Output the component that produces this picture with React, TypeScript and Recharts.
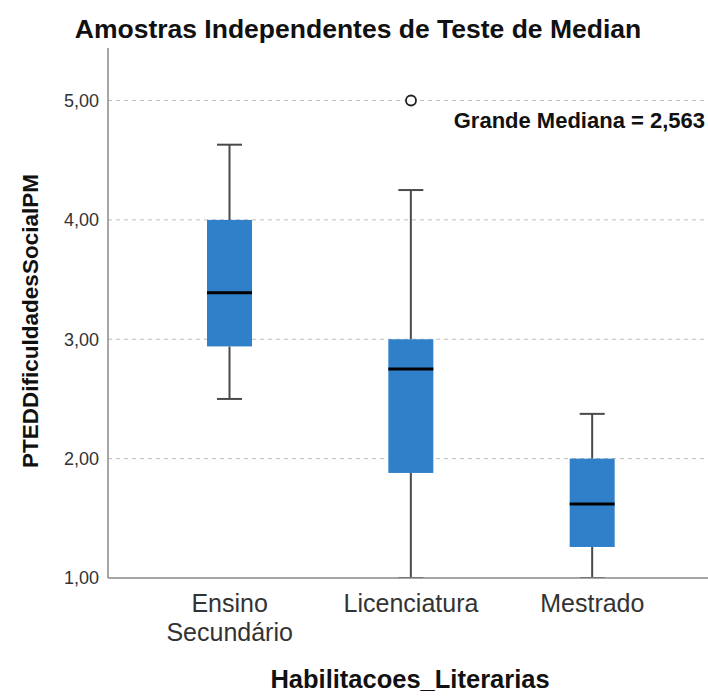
import React from 'react';
import { ComposedChart, Bar, Line, XAxis, YAxis, CartesianGrid } from 'recharts';

const categories = ['Ensino\nSecundário', 'Licenciatura', 'Mestrado'];
const mins = [2.5, 1.0, 1.0];
const q1s = [2.94, 1.88, 1.26];
const medians = [3.39, 2.75, 1.62];
const q3s = [4.0, 3.0, 2.0];
const maxs = [4.63, 4.25, 2.375];
const outliers: (number | null)[] = [null, 5.0, null];
const yTicks = [1, 2, 3, 4, 5];

const chartData = categories.map((name, i) => ({
  name,
  range: [mins[i], maxs[i]],
  min: mins[i],
  q1: q1s[i],
  median: medians[i],
  q3: q3s[i],
  max: maxs[i],
  outlier: outliers[i],
}));

const FONT = '"Liberation Sans", Arial, sans-serif';
const BOX = '#2f80c9';

const BoxShape = (props: any) => {
  const { x, y, width, height, payload } = props;
  if (x == null || y == null || !payload) return <g />;
  const top = Math.min(y, y + height);
  const h = Math.abs(height);
  const { min, max, q1, q3, median } = payload;
  const py = (v: number) => top + ((max - v) / (max - min)) * h;
  const cx = x + width / 2;
  const cap = 25;
  return (
    <g>
      <line x1={cx} x2={cx} y1={py(max)} y2={py(q3)} stroke="#4a4a4a" strokeWidth={2} />
      <line x1={cx} x2={cx} y1={py(q1)} y2={py(min)} stroke="#4a4a4a" strokeWidth={2} />
      <line x1={cx - cap / 2} x2={cx + cap / 2} y1={py(max)} y2={py(max)} stroke="#4a4a4a" strokeWidth={2} />
      <line x1={cx - cap / 2} x2={cx + cap / 2} y1={py(min)} y2={py(min)} stroke="#4a4a4a" strokeWidth={2} />
      <rect x={x} y={py(q3)} width={width} height={py(q1) - py(q3)} fill={BOX} />
      <line x1={x} x2={x + width} y1={py(median)} y2={py(median)} stroke="#000" strokeWidth={3} />
    </g>
  );
};

const OutlierDot = (props: any) => {
  const { cx, cy, payload } = props;
  if (!payload || payload.outlier == null || cx == null || cy == null || isNaN(cy)) return <g key={props.index} />;
  return <circle key={props.index} cx={cx} cy={cy} r={5} fill="#fff" stroke="#222" strokeWidth={1.8} />;
};

const XTick = (props: any) => {
  const { x, y, payload } = props;
  const lines = String(payload.value).split('\n');
  return (
    <text x={x} y={y} textAnchor="middle" fontSize={25} fill="#333" fontFamily={FONT}>
      {lines.map((l, i) => (
        <tspan key={i} x={x} y={y + 34 + i * 29}>{l}</tspan>
      ))}
    </text>
  );
};

export default function App() {
  return (
    <div style={{ position: 'absolute', left: 0, top: 0, width: 708, height: 697, background: '#fff', overflow: 'hidden' }}>
      <ComposedChart
        width={708}
        height={697}
        data={chartData}
        margin={{ top: 48, right: 0, left: 0, bottom: 0 }}
        style={{ fontFamily: FONT }}
      >
        <CartesianGrid horizontal vertical={false} horizontalValues={[2, 3, 4, 5]} stroke="#bdbdbd" strokeDasharray="4 4" />
        <XAxis
          dataKey="name"
          type="category"
          interval={0}
          height={119}
          padding={{ left: 31, right: 25 }}
          axisLine={{ stroke: '#888', strokeWidth: 1.5 }}
          tickLine={false}
          tickSize={0}
          tickMargin={0}
          tick={<XTick />}
        />
        <YAxis
          width={108}
          type="number"
          domain={[1, 5.44]}
          ticks={yTicks}
          allowDataOverflow
          axisLine={{ stroke: '#888', strokeWidth: 1.5 }}
          tickLine={false}
          tickSize={0}
          tickMargin={9}
          tick={{ fontSize: 18, fill: '#333', fontFamily: FONT }}
          tickFormatter={(v: number) => v.toFixed(2).replace('.', ',')}
        />
        <Bar dataKey="range" barSize={45} shape={<BoxShape />} isAnimationActive={false} />
        <Line
          dataKey="outlier"
          stroke="none"
          dot={<OutlierDot />}
          activeDot={false}
          isAnimationActive={false}
          connectNulls={false}
        />
        <text x={358} y={38} textAnchor="middle" fontSize={26.5} fontWeight="bold" fill="#111" fontFamily={FONT}>
          Amostras Independentes de Teste de Median
        </text>
        <text x={705} y={128} textAnchor="end" fontSize={22} fontWeight="bold" fill="#111" fontFamily={FONT}>
          Grande Mediana = 2,563
        </text>
        <text x={38} y={321} transform="rotate(-90 38 321)" textAnchor="middle" fontSize={22.5} fontWeight="bold" fill="#111" fontFamily={FONT}>
          PTEDDificuldadesSocialPM
        </text>
        <text x={410} y={688} textAnchor="middle" fontSize={25.5} fontWeight="bold" fill="#111" fontFamily={FONT}>
          Habilitacoes_Literarias
        </text>
      </ComposedChart>
    </div>
  );
}
